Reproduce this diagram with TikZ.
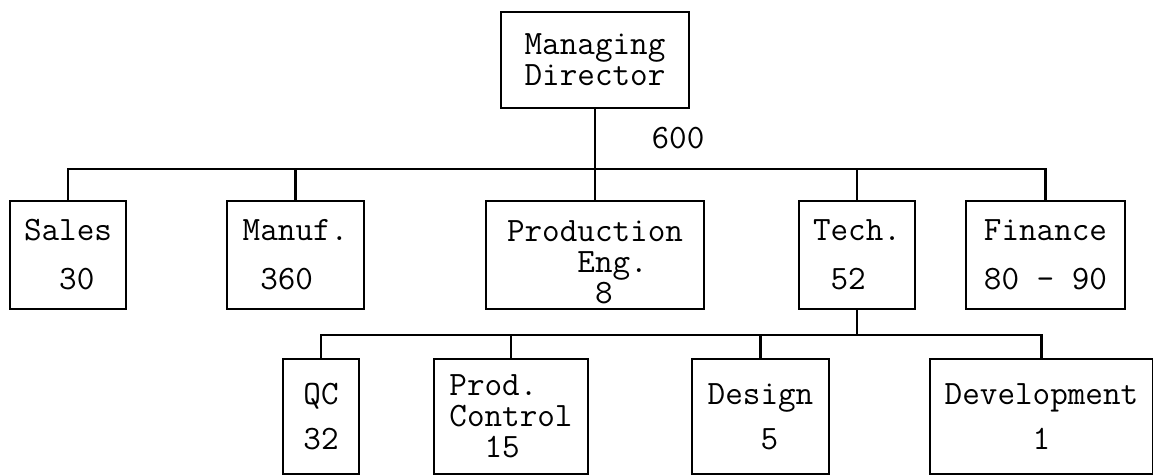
\documentclass[tikz,border=0pt]{standalone}
\usetikzlibrary{positioning}
\newcommand{\orgfont}{\fontsize{24.3}{22}\selectfont\ttfamily}
\newcommand{\pad}[1]{\hphantom{#1}}

\begin{document}
\begin{tikzpicture}[
  orgbox/.style={rectangle, draw=black, line width=1.9pt, minimum height=2.7cm, align=left, font=\orgfont, inner sep=0pt},
  lowbox/.style={orgbox, minimum height=2.875cm},
  link/.style={line width=1.7pt, draw=black}
]
  \useasboundingbox (0,0) rectangle (28.825,-11.9);

  \node[orgbox, minimum width=4.7cm, minimum height=2.4cm] (md) at (14.875, -1.5) {
    Managing\\
    Director
  };

  \node[font=\orgfont] (staff) at (16.95, -3.45) {600};

  \node[orgbox, minimum width=2.9cm] (sales) at (1.7, -6.375) {
    Sales\\[0.45cm]
    \pad{00}30
  };

  \node[orgbox, minimum width=3.425cm] (manuf) at (7.3875, -6.375) {
    Manuf.\\[0.45cm]
    \pad{0}360
  };

  \node[orgbox, minimum width=5.45cm] (prodeng) at (14.875, -6.375) {
    \rule{0pt}{0.9cm}Production\\
    \pad{0000}Eng.\\
    \pad{00000}8
  };

  \node[orgbox, minimum width=2.9cm] (tech) at (21.425, -6.375) {
    Tech.\\[0.45cm]
    \pad{0}52
  };

  \node[orgbox, minimum width=3.975cm] (finance) at (26.1375, -6.375) {
    Finance\\[0.45cm]
    80 - 90
  };

  \node[lowbox, minimum width=1.9cm] (qc) at (8.025, -10.4125) {
    QC\\[0.33cm]
    32
  };

  \node[lowbox, minimum width=3.85cm] (prodctrl) at (12.775, -10.4125) {
    Prod.\\
    Control\\
    \pad{00}15
  };

  \node[lowbox, minimum width=3.425cm] (design) at (19.0125, -10.4125) {
    Design\\[0.35cm]
    \pad{000}5
  };

  \node[lowbox, minimum width=5.575cm] (devel) at (26.0375, -10.4125) {
    Development\\[0.35cm]
    \pad{00000}1
  };

  \coordinate (bus) at (14.875, -4.225);
  \coordinate (subbus) at (21.425, -8.375);

  \draw[link] (md) -- (bus);
  \foreach \dept in {sales, manuf, prodeng, tech, finance}
    \draw[link] (bus) -| (\dept);

  \draw[link] (tech) -- (subbus);
  \foreach \dept in {qc, prodctrl, design, devel}
    \draw[link] (subbus) -| (\dept);

\end{tikzpicture}
\end{document}
